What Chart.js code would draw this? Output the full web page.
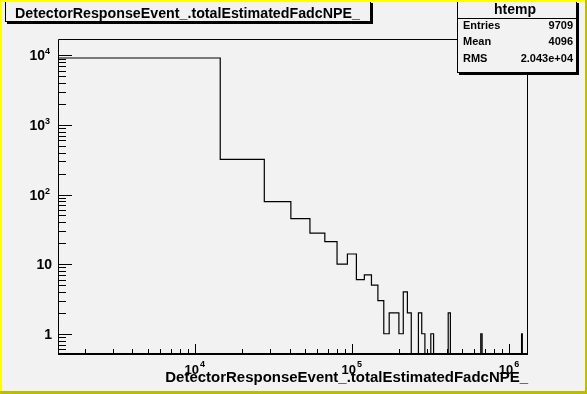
<!DOCTYPE html>
<html>
<head>
<meta charset="utf-8">
<script src="https://cdn.jsdelivr.net/npm/chart.js@4.4.1/dist/chart.umd.min.js"></script>
<style>
  html, body { margin: 0; padding: 0; background: #f2f2f2; }
  canvas { display: block; }
</style>
</head>
<body>
<canvas id="c" width="587" height="394"></canvas>
<script>
// 히스토그램 데이터 (ROOT htemp)
const histTitle = 'DetectorResponseEvent_.totalEstimatedFadcNPE_';
const xAxisTitle = 'DetectorResponseEvent_.totalEstimatedFadcNPE_';
const statsName = 'htemp';
const statsLabels = ['Entries', 'Mean', 'RMS'];
const statsValues = ['9709', '4096', '2.043e+04'];

const binLow = 1346;
const binWidth = 13150;
const binCounts = [
  9151, 320, 79, 45, 28, 21, 10, 14, 6, 7,
  5, 3, 1, 2, 2, 1, 4, 2, 0, 0,
  2, 1, 0, 0, 1, 0, 0, 0, 0, 0,
  0, 2, 0, 0, 0, 0, 0, 0, 0, 0,
  0, 0, 0, 0, 0, 0, 0, 0, 0, 0,
  1, 0, 0, 0, 0, 0, 0, 0, 0, 0,
  0, 0, 0, 0, 0, 0, 0, 0, 0, 0,
  0, 0, 0, 0, 0, 0, 0, 0, 0, 0,
  0, 0, 0, 0, 0, 0, 0, 0, 0, 0,
  0, 1, 0, 0, 0, 0, 0, 0, 0, 0
];

const xRange = [1346, 1316346];
const yRange = [0.512, 17160];

const xMajorTicks = [1e4, 1e5, 1e6];
const xTickBase = ['10', '10', '10'];
const xTickExp = ['4', '5', '6'];
const yMajorTicks = [1, 10, 100, 1000, 10000];
const yTickBase = ['1', '10', '10', '10', '10'];
const yTickExp = ['', '', '2', '3', '4'];

const FONT = '"Liberation Sans", Arial, Helvetica, sans-serif';

// 계단형 히스토그램 점 (빈 경계, 카운트)
const points = binCounts.map((c, i) => ({ x: binLow + i * binWidth, y: Math.max(c, yRange[0]) }));
points.push({ x: binLow + binCounts.length * binWidth, y: Math.max(binCounts[binCounts.length - 1], yRange[0]) });

function minorValues(min, max) {
  const out = [];
  for (let d = Math.pow(10, Math.floor(Math.log10(min))); d < max; d *= 10) {
    for (let m = 2; m <= 9; m++) {
      const v = m * d;
      if (v > min && v < max) out.push(v);
    }
  }
  return out;
}

function fitFont(ctx, text, width) {
  ctx.font = 'bold 20px ' + FONT;
  return 20 * width / ctx.measureText(text).width;
}

function boxWithShadow(ctx, x, y, w, h) {
  ctx.fillStyle = '#000';
  ctx.fillRect(x + 2, y + 2, w, h);
  ctx.fillStyle = '#f2f2f2';
  ctx.fillRect(x, y, w, h);
  ctx.strokeStyle = '#000';
  ctx.lineWidth = 1;
  ctx.strokeRect(x + 0.5, y + 0.5, w - 1, h - 1);
}

const rootDecor = {
  id: 'rootDecor',
  beforeDraw(chart) {
    const ctx = chart.ctx;
    ctx.save();
    ctx.fillStyle = '#f2f2f2';
    ctx.fillRect(0, 0, chart.width, chart.height);
    ctx.restore();
  },
  afterDraw(chart) {
    const ctx = chart.ctx;
    const ca = chart.chartArea;
    const xs = chart.scales.x;
    const ys = chart.scales.y;
    ctx.save();

    // 프레임
    ctx.strokeStyle = '#000';
    ctx.lineWidth = 1;
    ctx.beginPath();
    ctx.moveTo(ca.left + 0.5, ca.bottom);
    ctx.lineTo(ca.left + 0.5, ca.top + 0.5);
    ctx.lineTo(ca.right - 0.5, ca.top + 0.5);
    ctx.lineTo(ca.right - 0.5, ca.bottom);
    ctx.stroke();
    ctx.lineWidth = 2;
    ctx.beginPath();
    ctx.moveTo(ca.left, ca.bottom);
    ctx.lineTo(ca.right, ca.bottom);
    ctx.stroke();

    // 눈금 (안쪽)
    ctx.lineWidth = 1;
    ctx.beginPath();
    yMajorTicks.forEach(v => {
      const py = Math.round(ys.getPixelForValue(v)) + 0.5;
      ctx.moveTo(ca.left, py); ctx.lineTo(ca.left + 14, py);
    });
    minorValues(yRange[0], yRange[1]).forEach(v => {
      const py = Math.round(ys.getPixelForValue(v)) + 0.5;
      ctx.moveTo(ca.left, py); ctx.lineTo(ca.left + 8, py);
    });
    xMajorTicks.forEach(v => {
      const px = Math.round(xs.getPixelForValue(v)) + 0.5;
      ctx.moveTo(px, ca.bottom); ctx.lineTo(px, ca.bottom - 10);
    });
    minorValues(xRange[0], xRange[1]).forEach(v => {
      const px = Math.round(xs.getPixelForValue(v)) + 0.5;
      ctx.moveTo(px, ca.bottom); ctx.lineTo(px, ca.bottom - 5);
    });
    ctx.stroke();

    // y 눈금 라벨
    ctx.fillStyle = '#000';
    ctx.textBaseline = 'alphabetic';
    yMajorTicks.forEach((v, i) => {
      const py = ys.getPixelForValue(v);
      ctx.font = 'bold 14px ' + FONT;
      if (yTickExp[i]) {
        ctx.textAlign = 'right';
        ctx.fillText(yTickBase[i], 45, py + 5);
        ctx.textAlign = 'left';
        ctx.font = 'bold 9px ' + FONT;
        ctx.fillText(yTickExp[i], 45, py - 1);
      } else {
        ctx.textAlign = 'right';
        ctx.fillText(yTickBase[i], 52, py + 5);
      }
    });

    // x 눈금 라벨
    xMajorTicks.forEach((v, i) => {
      const px = xs.getPixelForValue(v);
      ctx.font = 'bold 13px ' + FONT;
      ctx.textAlign = 'right';
      ctx.fillText(xTickBase[i], px + 4, 374);
      ctx.textAlign = 'left';
      ctx.font = 'bold 9px ' + FONT;
      ctx.fillText(xTickExp[i], px + 5, 367);
    });

    // x 축 제목
    ctx.textAlign = 'right';
    ctx.font = 'bold ' + fitFont(ctx, xAxisTitle, 363).toFixed(2) + 'px ' + FONT;
    ctx.fillText(xAxisTitle, 528, 382);

    // 제목 상자
    boxWithShadow(ctx, 5, 1, 366, 21);
    ctx.fillStyle = '#000';
    ctx.textAlign = 'left';
    ctx.font = 'bold ' + fitFont(ctx, histTitle, 345).toFixed(2) + 'px ' + FONT;
    ctx.fillText(histTitle, 15, 18);

    // 통계 상자
    boxWithShadow(ctx, 457, 1, 120, 72);
    ctx.strokeStyle = '#000';
    ctx.beginPath();
    ctx.moveTo(457, 18.5); ctx.lineTo(577, 18.5);
    ctx.stroke();
    ctx.fillStyle = '#000';
    ctx.textAlign = 'center';
    ctx.font = 'bold 14px ' + FONT;
    ctx.fillText(statsName, 515, 14);
    ctx.font = 'bold 11px ' + FONT;
    statsLabels.forEach((lab, i) => {
      const by = 29 + i * 16.3;
      ctx.textAlign = 'left';
      ctx.fillText(lab, 463, by);
      ctx.textAlign = 'right';
      ctx.fillText(statsValues[i], 573, by);
    });

    // 캔버스 테두리
    ctx.fillStyle = '#ffff00';
    ctx.fillRect(0, 0, chart.width, 2);
    ctx.fillRect(0, 0, 2, chart.height);
    ctx.fillStyle = '#bcbc00';
    ctx.fillRect(chart.width - 2, 0, 2, chart.height);
    ctx.fillRect(0, chart.height - 3, chart.width, 3);

    ctx.restore();
  }
};

new Chart(document.getElementById('c').getContext('2d'), {
  type: 'line',
  data: {
    datasets: [{
      label: statsName,
      data: points,
      stepped: 'before',
      borderColor: '#000',
      borderWidth: 1.2,
      pointRadius: 0,
      fill: false
    }]
  },
  options: {
    responsive: false,
    animation: false,
    events: [],
    layout: { padding: { left: 58, right: 59, top: 39, bottom: 40 } },
    plugins: { legend: { display: false }, tooltip: { enabled: false }, title: { display: false } },
    scales: {
      x: { type: 'logarithmic', min: xRange[0], max: xRange[1], display: false },
      y: { type: 'logarithmic', min: yRange[0], max: yRange[1], display: false }
    }
  },
  plugins: [rootDecor]
});
</script>
</body>
</html>
